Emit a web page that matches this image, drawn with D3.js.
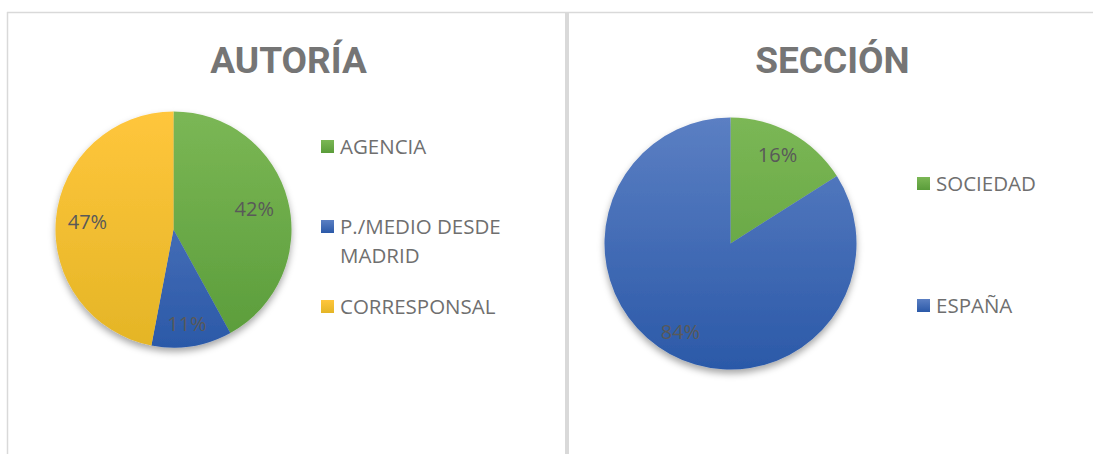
<!DOCTYPE html>
<html>
<head>
<meta charset="utf-8">
<script src="https://cdn.jsdelivr.net/npm/d3@7"></script>
<style>
  body { margin: 0; background: #fff; }
  svg { display: block; }
</style>
</head>
<body>
<svg width="1093" height="454"></svg>
<script>
// two pie charts: AUTORÍA and SECCIÓN
// data
const autoriaCategories = ["AGENCIA", "P./MEDIO DESDE MADRID", "CORRESPONSAL"];
const autoriaValues = [42, 11, 47];
const seccionCategories = ["SOCIEDAD", "ESPAÑA"];
const seccionValues = [16, 84];

// colours per category (top / bottom of the vertical gradient)
const colours = {
  "AGENCIA": ["#7bb755", "#5a9c3a"],
  "P./MEDIO DESDE MADRID": ["#5b7fc3", "#2b59a8"],
  "CORRESPONSAL": ["#ffc63c", "#e4b526"],
  "SOCIEDAD": ["#7bb755", "#5a9c3a"],
  "ESPAÑA": ["#5b7fc3", "#2b59a8"],
};

const svg = d3.select("svg");
const defs = svg.append("defs");

// soft shadow under the pies
const shadow = defs.append("filter")
  .attr("id", "pie-shadow")
  .attr("x", "-20%").attr("y", "-20%")
  .attr("width", "140%").attr("height", "140%");
shadow.append("feDropShadow")
  .attr("dx", 0).attr("dy", 4)
  .attr("stdDeviation", 3.5)
  .attr("flood-color", "#000")
  .attr("flood-opacity", 0.35);

// frame lines
const frameColour = "#d9d9d9";
svg.append("line").attr("x1", 7).attr("x2", 1093).attr("y1", 12.5).attr("y2", 12.5)
  .attr("stroke", frameColour).attr("stroke-width", 1.5);
svg.append("line").attr("x1", 7.5).attr("x2", 7.5).attr("y1", 12).attr("y2", 454)
  .attr("stroke", frameColour).attr("stroke-width", 1.5);
svg.append("rect").attr("x", 565).attr("y", 12).attr("width", 4).attr("height", 442)
  .attr("fill", frameColour);

// chart layouts
const charts = [
  {
    id: "autoria",
    title: "AUTORÍA",
    titleX: 288.5,
    categories: autoriaCategories,
    values: autoriaValues,
    cx: 173.5, cy: 229.5, r: 118,
    labelK: 0.72,
    legendX: 321, legendTop: 139, legendStep: 80, legendWrap: 178,
  },
  {
    id: "seccion",
    title: "SECCIÓN",
    titleX: 832.5,
    categories: seccionCategories,
    values: seccionValues,
    cx: 730.5, cy: 243.5, r: 126,
    labelK: 0.8,
    legendX: 917, legendTop: 176, legendStep: 122, legendWrap: 178,
  },
];

const drawChart = (c) => {
  const data = c.categories.map((name, i) => ({ name: name, value: c.values[i] }));
  const total = d3.sum(data, (d) => d.value);

  // title
  svg.append("text")
    .text(c.title)
    .attr("x", c.titleX)
    .attr("y", 73)
    .attr("text-anchor", "middle")
    .attr("fill", "#757575")
    .attr("font-size", 37)
    .attr("font-weight", 700)
    .attr("font-family", "Roboto, sans-serif");

  // gradients for slices and legend keys
  data.forEach((d, i) => {
    const pieGrad = defs.append("linearGradient")
      .attr("id", `g-${c.id}-${i}`)
      .attr("gradientUnits", "userSpaceOnUse")
      .attr("x1", 0).attr("y1", -c.r).attr("x2", 0).attr("y2", c.r);
    pieGrad.append("stop").attr("offset", "0%").attr("stop-color", colours[d.name][0]);
    pieGrad.append("stop").attr("offset", "100%").attr("stop-color", colours[d.name][1]);
    const keyGrad = defs.append("linearGradient")
      .attr("id", `k-${c.id}-${i}`)
      .attr("x1", 0).attr("y1", 0).attr("x2", 0).attr("y2", 1);
    keyGrad.append("stop").attr("offset", "0%").attr("stop-color", colours[d.name][0]);
    keyGrad.append("stop").attr("offset", "100%").attr("stop-color", colours[d.name][1]);
  });

  // pie
  const pie = d3.pie().sort(null).value((d) => d.value);
  const arcs = pie(data);
  const arc = d3.arc().innerRadius(0).outerRadius(c.r);

  const g = svg.append("g").attr("transform", `translate(${c.cx},${c.cy})`);
  const slices = g.append("g").attr("filter", "url(#pie-shadow)");
  slices.selectAll("path")
    .data(arcs)
    .join("path")
    .attr("d", arc)
    .attr("fill", (d, i) => `url(#g-${c.id}-${i})`);

  // data labels, small slices pushed a bit outward
  g.selectAll("text.label")
    .data(arcs)
    .join("text")
    .attr("class", "label")
    .text((d) => Math.round((d.data.value / total) * 100) + "%")
    .attr("transform", (d) => {
      const k = d.data.value / total < 0.15 ? 0.81 : c.labelK;
      const la = d3.arc().innerRadius(c.r * k).outerRadius(c.r * k);
      const [x, y] = la.centroid(d);
      return `translate(${x - 1.5},${y})`;
    })
    .attr("text-anchor", "middle")
    .attr("dy", "0.36em")
    .attr("fill", "#595959")
    .attr("font-size", 20)
    .attr("font-family", "'Open Sans', sans-serif");

  // legend, equal slots with text top aligned
  const rows = d3.scaleBand()
    .domain(c.categories)
    .range([c.legendTop, c.legendTop + c.legendStep * c.categories.length]);

  const legend = svg.append("g");
  data.forEach((d, i) => {
    const top = rows(d.name);
    legend.append("rect")
      .attr("x", c.legendX)
      .attr("y", top + 1)
      .attr("width", 13)
      .attr("height", 13)
      .attr("fill", `url(#k-${c.id}-${i})`);
    const txt = legend.append("text")
      .attr("x", c.legendX + 19)
      .attr("y", top + 15)
      .attr("fill", "#6f6f6f")
      .attr("font-size", 20.5)
      .attr("font-family", "'Open Sans', sans-serif");
    // wrap long names
    const words = d.name.split(" ");
    let line = [];
    let tspan = txt.append("tspan").attr("x", c.legendX + 19).attr("dy", 0);
    words.forEach((w) => {
      line.push(w);
      tspan.text(line.join(" "));
      if (tspan.node().getComputedTextLength() > c.legendWrap && line.length > 1) {
        line.pop();
        tspan.text(line.join(" "));
        line = [w];
        tspan = txt.append("tspan").attr("x", c.legendX + 19).attr("dy", 29).text(w);
      }
    });
  });
};

charts.forEach(drawChart);
</script>
</body>
</html>
